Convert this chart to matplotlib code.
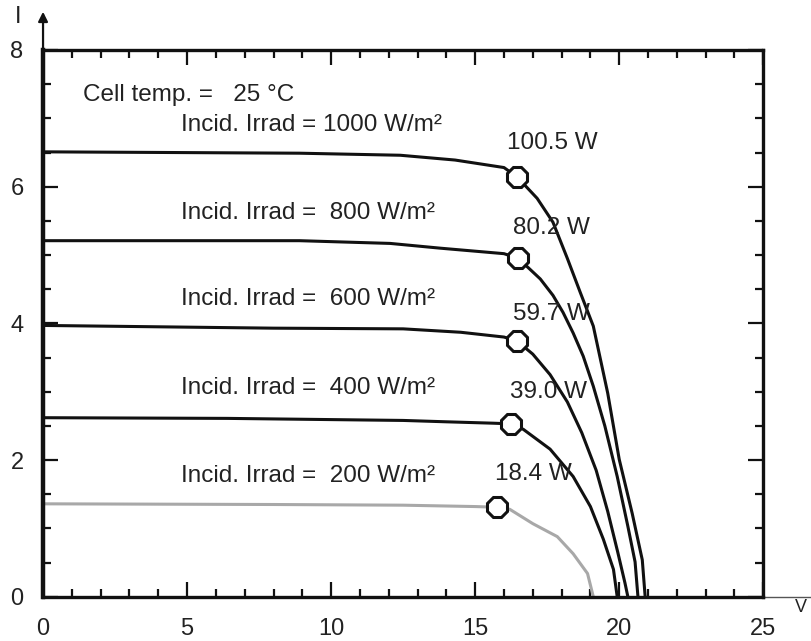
import matplotlib
matplotlib.use("Agg")
import matplotlib.pyplot as plt
from matplotlib.ticker import MultipleLocator

plt.rcParams['font.family'] = ['Liberation Sans', 'DejaVu Sans']

# I-V curves (V in volts, I in amps)
v_1000 = [0, 8.9, 12.4, 14.3, 16.0, 16.46, 17.15, 17.7, 18.2, 18.65, 19.1, 19.6, 20.0, 20.45, 20.8, 20.9]
i_1000 = [6.51, 6.49, 6.46, 6.39, 6.28, 6.14, 5.83, 5.48, 4.95, 4.45, 3.96, 2.98, 2.01, 1.22, 0.54, 0]

v_800 = [0, 8.9, 12.05, 13.8, 16.0, 16.5, 17.26, 17.7, 18.05, 18.4, 18.75, 19.1, 19.5, 19.93, 20.3, 20.55, 20.65]
i_800 = [5.21, 5.21, 5.17, 5.10, 5.02, 4.95, 4.65, 4.41, 4.16, 3.86, 3.52, 3.08, 2.50, 1.76, 1.03, 0.51, 0]

v_600 = [0, 8.0, 12.5, 14.5, 16.0, 16.46, 17.0, 17.6, 18.2, 18.7, 19.2, 19.6, 19.95, 20.2, 20.3]
i_600 = [3.97, 3.93, 3.92, 3.87, 3.80, 3.74, 3.55, 3.25, 2.85, 2.40, 1.85, 1.25, 0.65, 0.2, 0]

v_400 = [0, 6.4, 12.5, 14.0, 15.6, 16.25, 16.67, 17.6, 18.4, 19.0, 19.45, 19.8, 19.93]
i_400 = [2.62, 2.61, 2.58, 2.56, 2.54, 2.53, 2.45, 2.16, 1.76, 1.32, 0.84, 0.40, 0]

v_200 = [0, 8.0, 12.5, 15.0, 15.76, 16.2, 17.0, 17.85, 18.4, 18.9, 19.1]
i_200 = [1.36, 1.35, 1.34, 1.32, 1.31, 1.28, 1.07, 0.88, 0.63, 0.34, 0]

# maximum power points and labels
mpp_v = [16.46, 16.5, 16.46, 16.25, 15.76]
mpp_i = [6.14, 4.95, 3.74, 2.53, 1.31]
power_labels = ['100.5 W', '80.2 W', '59.7 W', '39.0 W', '18.4 W']
irrad = ['1000', '800', '600', '400', '200']

fig = plt.figure(figsize=(8.12, 6.41), dpi=100)
ax = fig.add_axes([0.053, 0.069, 0.887, 0.853])

curves = [(v_1000, i_1000), (v_800, i_800), (v_600, i_600), (v_400, i_400), (v_200, i_200)]
colors = ['#111111', '#111111', '#111111', '#111111', '#a8a8a8']
for (v, i), c in zip(curves, colors):
    ax.plot(v, i, color=c, lw=2.2, solid_capstyle='butt')

ax.plot(mpp_v, mpp_i, ls='none', marker='8', ms=15, mfc='white', mec='#111111', mew=2.2, zorder=5)

ax.set_xlim(0, 25)
ax.set_ylim(0, 8)
ax.xaxis.set_major_locator(MultipleLocator(5))
ax.xaxis.set_minor_locator(MultipleLocator(1))
ax.yaxis.set_major_locator(MultipleLocator(2))
ax.yaxis.set_minor_locator(MultipleLocator(0.5))
ax.tick_params(which='both', direction='in', top=True, right=True, color='#111111', width=1.6)
ax.tick_params(which='major', length=11, labelsize=17, labelcolor='#222222')
ax.tick_params(which='minor', length=6)
ax.tick_params(axis='x', pad=15)
ax.tick_params(axis='y', pad=14)
for s in ax.spines.values():
    s.set_linewidth(2.4)
    s.set_color('#111111')
ax.spines['left'].set_linewidth(3.2)

# axis arrow and extension
ax.annotate('', xy=(0, 1.075), xytext=(0, 0.99), xycoords='axes fraction',
            arrowprops=dict(arrowstyle='-|>', color='#111111', lw=1.6, mutation_scale=14))
ax.plot([1, 1.07], [0, 0], transform=ax.transAxes, color='#555555', lw=1, clip_on=False)
ax.text(-0.035, 1.06, 'I', transform=ax.transAxes, fontsize=17, color='#222222', ha='center', va='center')
ax.text(1.052, -0.02, 'V', transform=ax.transAxes, fontsize=13, color='#222222', ha='center', va='center')

txt = dict(fontsize=17.5, color='#222222', va='center', ha='left')
ax.text(1.39, 7.34, 'Cell temp. =   25 °C', **txt)
label_i = [6.9, 5.62, 4.36, 3.05, 1.76]
power_x = [16.1, 16.3, 16.3, 16.2, 15.7]
power_i = [6.64, 5.40, 4.14, 3.0, 1.8]
for k in range(5):
    pad = ' ' if len(irrad[k]) == 4 else '  '
    ax.text(4.8, label_i[k], 'Incid. Irrad =' + pad + irrad[k] + ' W/m²', **txt)
    ax.text(power_x[k], power_i[k], power_labels[k], **txt)

fig.savefig('out.png', dpi=100)
